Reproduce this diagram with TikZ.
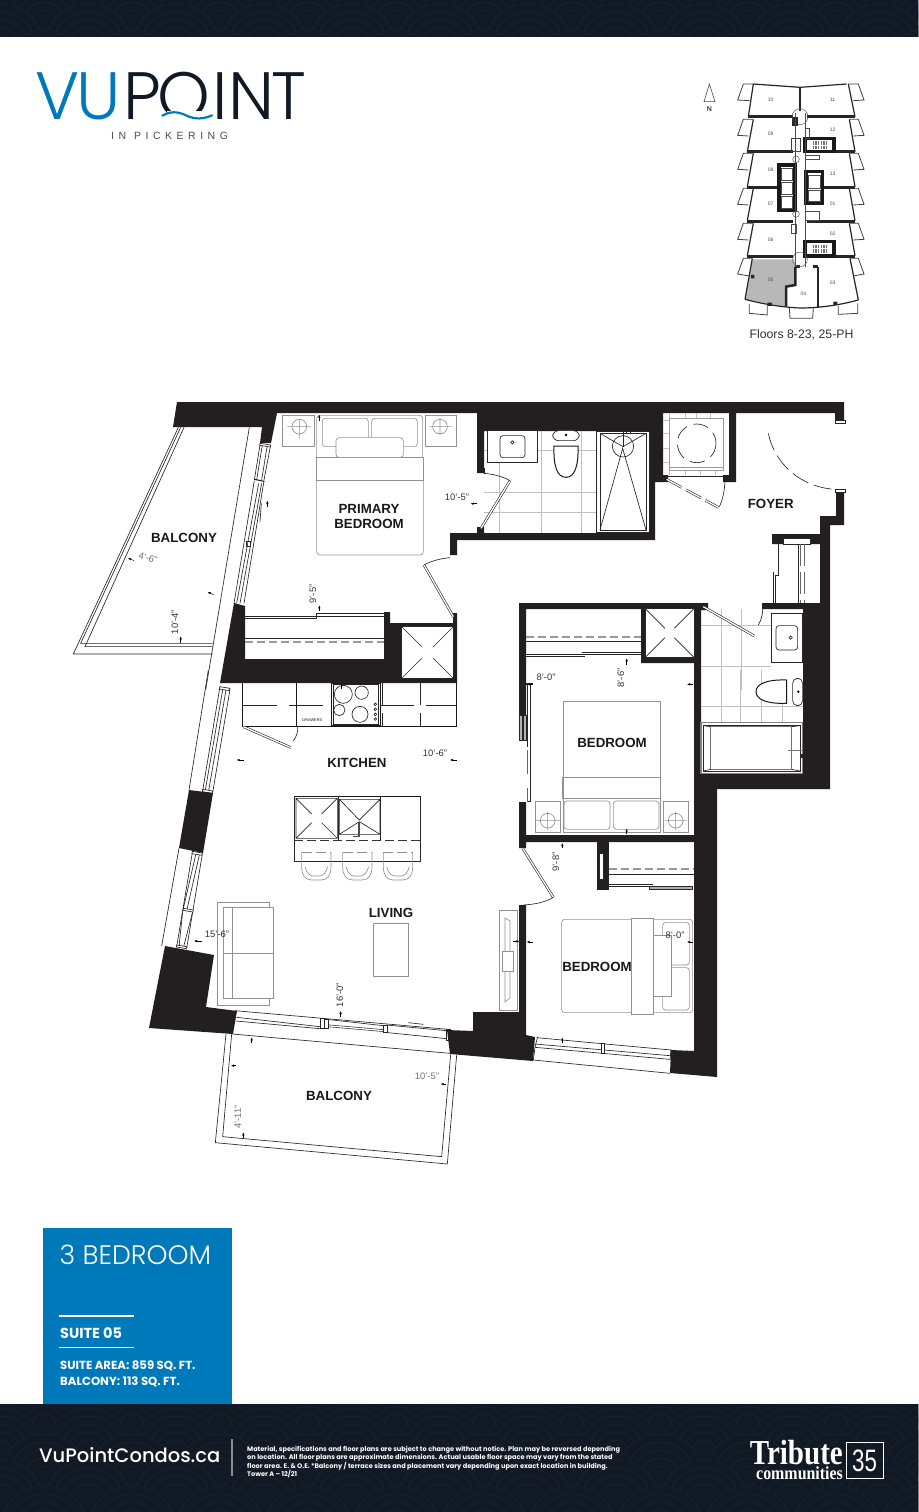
\documentclass[tikz,border=0pt]{standalone}
\usepackage{fontspec}
\usetikzlibrary{arrows.meta}
\setmainfont{Liberation Sans}
\newfontfamily\pop{Poppins}
\newfontfamily\popl{Poppins Light}
\newfontfamily\popm{Poppins Medium}
\newfontfamily\tser{Liberation Serif}
\definecolor{bandc}{HTML}{111A24}
\definecolor{bandl}{HTML}{1B2631}
\definecolor{bluec}{HTML}{0079BA}
\definecolor{wallc}{HTML}{231F20}
\definecolor{furnc}{HTML}{929292}
\definecolor{tilec}{HTML}{C0C0C0}
\tikzset{
 z1/.style={scale=.33333},
 z2/.style={shift={(690,70)},scale=.33333},
 z3/.style={shift={(60,390)},scale=.33333},
 z4/.style={shift={(440,390)},scale=.33333},
 z5/.style={shift={(140,670)},scale=.33333},
 z6/.style={shift={(500,670)},scale=.33333},
 z7/.style={shift={(140,960)},scale=.33333},
 fur/.style={draw=furnc,line width=.65pt},
 dk/.style={draw=black!85,line width=.65pt},
 dkk/.style={draw=black!90,line width=1pt},
 tile/.style={draw=tilec,line width=.9pt},
 doorp/.style={draw=black!85,double=white,double distance=1.3pt,line width=.6pt},
 gdash/.style={draw=black!40,line width=1.9pt,dash pattern=on 8pt off 4pt},
 ddash/.style={draw=black!80,line width=.65pt,dash pattern=on 9pt off 4pt},
 tk/.style={draw=black,line width=.4pt,-{Latex[length=3pt,width=2.4pt]}},
 room/.style={font=\bfseries\fontsize{13.3}{15}\selectfont,text=black!90,inner sep=0pt,align=center},
 dim/.style={font=\fontsize{9.4}{11}\selectfont,text=black!80,inner sep=0pt},
 gdim/.style={font=\fontsize{9.4}{11}\selectfont,text=black!55,inner sep=0pt},
 foot/.style={anchor=base west,inner sep=0pt,text=white,font=\pop\bfseries\fontsize{6.6}{7}\selectfont},
 kl/.style={draw=black!85,line width=1.2pt},
 klt/.style={draw=black!85,line width=2.5pt},
 klc/.style={draw=black!90,line width=3.6pt},
 klb/.style={draw=black!75,line width=.8pt},
 kln/.style={draw=black!70,line width=.45pt},
 kn/.style={font=\fontsize{5}{6}\selectfont,text=black!70,inner sep=0pt},
}
\newcommand{\bandpattern}[2]{%
 \begin{scope}
 \clip (0,#1) rectangle (918,#2);
 \fill[bandc] (0,#1) rectangle (918,#2);
 \foreach \row in {0,...,5}{
  \pgfmathsetmacro{\off}{mod(\row,2)*44}
  \foreach \col in {-1,...,10}{
   \pgfmathsetmacro{\cx}{\col*88+\off}
   \pgfmathsetmacro{\cy}{#1+\row*26-4}
   \foreach \rr in {44,36,28,20,12}{
    \draw[bandl,line width=.5pt,fill=bandc] (\cx,\cy) circle[radius=\rr];
   }
  }
 }
 \end{scope}}
\begin{document}
\begin{tikzpicture}[x=1pt,y=-1pt]
\useasboundingbox (0,0) rectangle (918,1512);
\fill[white] (0,0) rectangle (918,1512);
\bandpattern{0}{37}
\bandpattern{1404}{1512}

% logo
\node[anchor=base west,inner sep=0pt,font=\popl\fontsize{67}{70}\selectfont] (logo) at (35,119.5)
 {\textcolor{bluec}{V\kern-3pt U}\kern3pt\textcolor{bandc}{P\kern-4pt O\kern2pt I\kern1pt N\kern-3.5pt T}};
\begin{scope}[z1]
\fill[white] (500,332) rectangle (640,365);
\draw[bluec,line width=2.2pt,line cap=round] (487,347) .. controls (520,328) and (545,340) .. (562,348) .. controls (585,358) and (610,358) .. (636,346);
\end{scope}
\node[anchor=base west,inner sep=0pt,text=black!70,font=\fontsize{10.5}{12}\selectfont] (sub) at (111,139.5)
 {I\kern4.5pt N\kern8pt P\kern4.5pt I\kern4.5pt C\kern4.5pt K\kern4.5pt E\kern4.5pt R\kern4.5pt I\kern4.5pt N\kern4.5pt G};

% key plan
\begin{scope}[z2]
\draw[black!70,line width=.6pt] (58,42) -- (42,95) -- (75,95) -- cycle;
\fill[black!28] (188,568) -- (312,568) -- (315,585) -- (315,645) -- (285,650) -- (285,710) -- (165,688) -- cycle;
\draw[klb] (190,42) -- (160,42) -- (143,90) -- (178,92);
\draw[klb] (475,42) -- (505,42) -- (522,90) -- (490,92);
\foreach \yy in {148,250,355,460}{
 \draw[klb] (188,\yy) -- (160,\yy) -- (143,\yy+48) -- (175,\yy+50);
 \draw[klb] (478,\yy) -- (505,\yy) -- (522,\yy+48) -- (490,\yy+50);
}
\draw[klb] (185,565) -- (160,565) -- (143,612) -- (178,618);
\draw[klb] (482,565) -- (505,565) -- (522,612) -- (490,618);
\draw[klb] (178,702) -- (178,730) -- (232,735) -- (232,708);
\draw[klb] (298,714) -- (300,745) -- (368,745) -- (370,714);
\draw[klb] (445,708) -- (445,733) -- (503,730) -- (503,700);
\draw[kl] (190,42) -- (330,52) -- (470,42);
\draw[kl] (190,42) -- (175,140) (190,148) -- (172,245) (190,250) -- (172,350) (190,355) -- (172,452) (190,460) -- (172,557) (187,565) -- (165,688);
\draw[kl] (475,42) -- (495,140) (478,148) -- (495,245) (478,250) -- (495,350) (478,355) -- (495,452) (478,460) -- (495,557) (480,565) -- (505,690);
\draw[kl] (165,688) .. controls (230,705) and (285,712) .. (330,714) .. controls (390,714) and (450,705) .. (505,690);
\draw[klt] (175,140) -- (308,140) (350,140) -- (495,140);
\draw[klt] (172,245) -- (308,245) (350,245) -- (495,245);
\draw[klt] (172,352) -- (268,352) (398,352) -- (495,352);
\draw[klt] (172,455) -- (308,455) (350,455) -- (495,455);
\draw[klt] (172,560) -- (308,560) (350,560) -- (495,560);
\draw[klt] (330,52) -- (330,122);
\draw[klt] (316,590) -- (316,645) -- (288,650) -- (288,710);
\draw[klt] (384,590) -- (384,710);
\draw[klt] (316,590) -- (330,590) (370,590) -- (384,590);
\draw[klc] (267,285) rectangle (315,422);
\draw[klc] (348,305) rectangle (398,400);
\draw[kln] (275,295) rectangle (308,330) (275,337) rectangle (308,372) (275,378) rectangle (308,415);
\draw[kln] (355,315) rectangle (390,355) (355,362) rectangle (390,395);
\draw[klc] (345,205) rectangle (432,245);
\draw[klc] (345,515) rectangle (432,558);
\fill[white] (360,212) rectangle (425,240) (360,522) rectangle (425,552);
\foreach \hx in {370,378,386,394,402,410}{
 \draw[black!55,line width=1.4pt] (\hx,214) -- (\hx,224) (\hx,228) -- (\hx,238);
 \draw[black!55,line width=1.4pt] (\hx,524) -- (\hx,534) (\hx,538) -- (\hx,550);
}
\fill[black!85] (305,140) rectangle (325,168);
\draw[klb] (305,205) rectangle (330,245);
\draw[kln] (345,175) rectangle (357,205) (345,255) rectangle (388,268) (345,425) rectangle (388,452) (305,462) rectangle (318,490);
\draw[kln] (330,140) circle[radius=24];
\draw[kln] (330,568) circle[radius=22];
\draw[kln] (318,268) circle[radius=10] (318,432) circle[radius=10];
\draw[kln] (345,130) -- (345,590) (315,130) -- (315,590);
\fill[black!85] (183,615) rectangle (193,625) (232,698) rectangle (246,708) (430,695) rectangle (442,705);
\node[kn] (k10) at (242,90) {10};
\node[kn] (k11) at (428,88) {11};
\node[kn] (k09) at (242,192) {09};
\node[kn] (k12) at (428,180) {12};
\node[kn] (k08) at (242,300) {08};
\node[kn] (k13) at (428,310) {13};
\node[kn] (k07) at (242,402) {07};
\node[kn] (k01) at (428,402) {01};
\node[kn] (k06) at (242,508) {06};
\node[kn] (k02) at (428,490) {02};
\node[kn] (k05) at (242,628) {05};
\node[kn] (k04) at (340,672) {04};
\node[kn] (k03) at (428,638) {03};
\end{scope}
\node[font=\bfseries\fontsize{7}{8}\selectfont,text=black!75,inner sep=0pt] (north) at (709.5,109) {N};
\node[font=\fontsize{12.3}{14}\selectfont,text=black!80,inner sep=0pt] (floors) at (801.5,335) {Floors 8-23, 25-PH};

% balconies and glazing
\begin{scope}[z3]
\draw[dk] (355,112) -- (40,792) -- (458,792);
\draw[dk] (372,112) -- (75,770) -- (458,770);
\draw[dk] (362,112) -- (62,760) -- (458,760);
\draw[dk] (568,112) -- (437,900);
\draw[dk] (600,165) -- (583,270) (632,165) -- (612,270);
\draw[dk] (607,165) -- (590,270) (622,165) -- (605,270);
\draw[dk] (583,272) -- (522,640) (612,272) -- (552,640);
\draw[dk] (596,280) -- (530,640) (605,280) -- (540,640);
\draw[dk,fill=white] (600,160) -- (632,165) -- (631,171) -- (599,166) -- cycle;
\draw[dkk] (583,268) -- (613,274);
\draw[dk] (558,455) rectangle (572,470);
\draw[dk] (604,340) -- (600,395);
\end{scope}
\begin{scope}[z5]
\draw[dk] (205,0) -- (147,360);
\draw[dk] (240,50) -- (188,362) (270,58) -- (218,368);
\draw[dk] (248,60) -- (196,360) (258,60) -- (206,362);
\draw[dk,fill=white] (240,50) -- (270,55) -- (268,62) -- (238,57) -- cycle;
\draw[dk,fill=white] (188,358) -- (218,363) -- (217,370) -- (187,365) -- cycle;
\draw[dk] (117,535) -- (65,828);
\draw[dk] (157,548) -- (110,830) (187,552) -- (140,835);
\draw[dk] (167,555) -- (130,715) (178,555) -- (141,718) (128,725) -- (117,830) (158,725) -- (131,830);
\draw[dk,fill=white] (157,544) -- (187,549) -- (186,556) -- (156,551) -- cycle;
\draw[dk,fill=white] (130,715) -- (160,720) -- (159,726) -- (129,721) -- cycle;
\draw[dk,fill=white] (110,825) -- (140,830) -- (139,836) -- (109,831) -- cycle;
\end{scope}
\begin{scope}[z7]
\draw[dk] (258,222) -- (226,548) -- (922,612) -- (950,285);
\draw[dk] (275,222) -- (248,530) -- (905,590) -- (932,283);
\draw[dk] (277,222) -- (930,280);
\draw[dk] (285,152) -- (925,208);
\draw[dk] (285,152) -- (280,185);
\draw[dk] (290,172) -- (540,200) (288,183) -- (540,206);
\draw[dk] (560,178) -- (730,197);
\draw[doorp] (560,197) -- (733,212);
\draw[dk] (740,195) -- (920,212) (735,217) -- (920,236);
\draw[dk,fill=white] (540,175) rectangle (552,205);
\draw[dk,fill=white] (554,177) rectangle (564,206);
\draw[dk,fill=white] (731,197) rectangle (743,218);
\draw[dk,fill=white] (918,208) rectangle (930,240);
\draw[dk] (805,188) -- (850,193);
\end{scope}
\begin{scope}[z6]
\draw[dk] (110,1103) -- (513,1140);
\draw[dk] (105,1122) -- (510,1157) (105,1132) -- (510,1168);
\draw[dk] (100,1170) -- (510,1210);
\draw[dk] (113,1100) -- (105,1132) -- (100,1170);
\draw[dk] (513,1138) -- (510,1170);
\draw[dk,fill=white] (303,1120) rectangle (312,1150);
\end{scope}

% walls
\fill[wallc] (177,402) -- (844,402) -- (844,422) -- (835,422) -- (835,413) -- (736,413) -- (736,482) -- (723,482) -- (723,475) -- (729,475) -- (729,413) -- (663,413) -- (663,475) -- (668,475) -- (668,482) -- (655,482) -- (655,540) -- (457,540) -- (457,555) -- (450,555) -- (450,533) -- (477,533) -- (477,527) -- (484,527) -- (484,533) -- (648,533) -- (648,431) -- (484,431) -- (484,473) -- (477,473) -- (477,413) -- (277,413) -- (271,443) -- (260,443) -- (262,427) -- (173,427) -- cycle;
\fill[wallc] (836,493) -- (844,493) -- (844,525) -- (830,525) -- (830,789) -- (717,789) -- (717,1077) -- (670,1073) -- (671,1050) -- (694,1051) -- (694,773) -- (803,773) -- (803,609) -- (762,609) -- (762,603) -- (820,603) -- (820,544) -- (772,544) -- (772,534) -- (820,534) -- (820,516) -- (836,516) -- cycle;
\fill[wallc] (519,603) -- (708,603) -- (708,610) -- (701,610) -- (701,773) -- (694,773) -- (694,663) -- (641,663) -- (641,609) -- (526,609) -- (526,715) -- (519,715) -- cycle;
\fill[wallc] (519,802) -- (526,802) -- (526,835) -- (694,835) -- (694,842) -- (526,842) -- (526,848) -- (519,848) -- cycle;
\fill[wallc] (597,842) rectangle (609,890);
\fill[wallc] (519,905) -- (526,905) -- (526,1035) -- (535,1037) -- (533,1061) -- (450,1054) -- (447,1030) -- (473,1031) -- (473,1012) -- (519,1012) -- cycle;
\fill[wallc] (165,946) -- (214,955) -- (206,1007) -- (237,1011) -- (233,1034) -- (149,1028) -- cycle;
\fill[wallc] (189,790) -- (213,793) -- (203,853) -- (179,848) -- cycle;
\fill[wallc] (234,603) -- (245,606) -- (245,659) -- (384,659) -- (384,612) -- (390,612) -- (390,623) -- (453,623) -- (453,613) -- (457,613) -- (457,683) -- (220,683) -- cycle;
% wall inserts
\fill[white] (599,853) rectangle (603.5,879);
\draw[dk] (599,853) rectangle (603.5,879);
\fill[white] (783,538) rectangle (810,544);
\draw[dk] (783,538) rectangle (810,544);

% primary bedroom furniture
\begin{scope}[z3]
\draw[fur] (668,76) rectangle (763,168) (1097,76) rectangle (1190,168);
\draw[fur] (718,110) circle[radius=22] (682,110) -- (752,110) (718,88) -- (718,145);
\draw[fur] (1140,110) circle[radius=22] (1110,110) -- (1175,110) (1140,88) -- (1140,135);
\draw[fur,rounded corners=3pt] (770,202) -- (770,495) -- (1090,495) -- (1090,202);
\draw[fur] (770,202) rectangle (1090,272);
\draw[fur,rounded corners=3pt] (770,202) -- (770,76) -- (1088,76) -- (1088,202);
\draw[fur,rounded corners=3pt] (787,85) rectangle (925,170) (935,85) rectangle (1072,170);
\draw[fur,fill=white,rounded corners=3pt] (828,143) rectangle (1030,202);
\draw[dk] (555,678) -- (768,678) -- (768,670) -- (972,670);
\draw[dk] (555,685) -- (768,685) -- (768,678) -- (972,678);
\draw[dk] (555,745) -- (972,745);
\draw[gdash] (555,757) -- (972,757);
\draw[doorp] (1180,680) -- (1092,525);
\draw[dk] (1092,525) .. controls (1115,512) and (1145,505) .. (1170,503);
\fill[white] (1025,710) rectangle (1180,865);
\draw[dk] (1025,710) rectangle (1180,865);
\draw[dk] (1025,710) -- (1085,770) (1180,710) -- (1120,770) (1025,865) -- (1085,805) (1180,865) -- (1120,805);
\end{scope}

% ensuite and laundry, foyer
\begin{scope}[z4]
\draw[tile] (178,217) -- (178,428) (305,122) -- (305,428) (425,122) -- (425,428);
\draw[tile] (133,308) -- (470,308) (133,368) -- (470,368) (133,182) -- (143,182) (293,182) -- (470,182);
\draw[dk,fill=white] (143,122) rectangle (293,217);
\draw[dk,fill=white,rounded corners=3pt] (180,137) rectangle (255,203);
\draw[dk] (217,157) circle[radius=5];
\draw[dk,fill=white,rounded corners=6pt] (338,122) rectangle (418,152);
\draw[dkk,fill=white] (342,168) -- (414,168) .. controls (416,225) and (405,262) .. (378,262) .. controls (350,262) and (340,225) .. (342,168) -- cycle;
\fill[black] (378,135) circle[radius=4];
\draw[dk,fill=white] (470,123) rectangle (627,428);
\draw[dk] (480,130) rectangle (618,420);
\draw[dk] (480,420) -- (548,175) -- (618,420);
\draw[dk] (549,169) circle[radius=32];
\draw[dk] (480,130) -- (549,170) -- (618,130);
\draw[dk] (549,170) -- (549,122);
\draw[dk] (560,122) rectangle (572,130);
\draw[doorp] (123,415) -- (210,272);
\draw[dk] (130,250) .. controls (160,252) and (190,260) .. (210,272);
\fill[wallc] (112,235) rectangle (135,250);
% laundry
\draw[tile] (688,70) -- (688,255) (735,70) -- (735,85) (770,70) -- (770,85) (812,70) -- (812,85);
\draw[tile] (670,92) -- (688,92) (670,130) -- (688,130) (670,175) -- (688,175) (670,218) -- (688,218);
\draw[tile] (735,240) -- (735,255) (780,240) -- (780,255) (825,240) -- (825,255);
\draw[draw=black!40,line width=.9pt] (688,85) rectangle (850,240);
\draw[black!40,line width=.7pt] (688,232) -- (850,232);
\draw[dk,dash pattern=on 15pt off 7pt] (770,160) circle[radius=58];
\draw[dk] (685,258) -- (855,258);
\draw[doorp,dash pattern=on 17pt off 5pt] (680,268) -- (835,352);
\draw[dk] (855,275) .. controls (853,305) and (848,330) .. (838,350);
% entry door
\draw[doorp] (985,105) -- (1185,105);
\draw[dk,dash pattern=on 18pt off 6pt] (985,130) .. controls (1005,225) and (1085,292) .. (1185,298);
\draw[dk,fill=white] (1185,90) rectangle (1215,100);
\draw[dk,fill=white] (1185,298) rectangle (1215,308);
% coat closet
\draw[dk] (1016,463) -- (1016,555) -- (1006,555) -- (1006,640);
\draw[dk] (1000,545) -- (1000,640);
\draw[black!60,line width=.8pt,dash pattern=on 22pt off 6pt] (1082,463) -- (1082,640) (1092,463) -- (1092,640);
\draw[dk] (1075,463) -- (1075,640);
% bedroom closet
\draw[gdash] (258,740) -- (602,740);
\draw[dk] (258,753) -- (602,753);
\draw[doorp] (258,797) -- (435,797);
\draw[doorp] (425,790) -- (602,790);
\fill[white] (615,655) rectangle (763,803);
\draw[dk] (615,655) rectangle (763,803);
\draw[dk] (615,655) -- (675,715) (763,655) -- (703,715) (615,803) -- (675,743) (763,803) -- (703,743);
% bath two
\draw[tile] (845,658) -- (845,900) (905,658) -- (905,900);
\draw[tile] (782,705) -- (993,705) (782,830) -- (993,830);
\draw[dk,fill=white] (993,670) rectangle (1087,818);
\draw[dk,fill=white,rounded corners=3pt] (1008,707) rectangle (1073,780);
\draw[dk] (1052,743) circle[radius=5];
\draw[doorp] (790,650) -- (943,738);
\draw[dk] (968,640) .. controls (970,665) and (965,690) .. (955,705);
\fill[wallc] (965,638) rectangle (985,658);
\end{scope}

\begin{scope}[z6]
\draw[tile] (665,0) -- (665,157) (722,0) -- (722,157) (785,0) -- (785,157) (848,100) -- (848,157);
\draw[tile] (603,110) -- (908,110);
\draw[dkk,fill=white] (860,30) .. controls (800,28) and (768,42) .. (768,65) .. controls (768,88) and (800,102) .. (860,100) -- cycle;
\draw[dk,fill=white,rounded corners=5pt] (878,25) rectangle (908,107);
\fill[black] (895,65) circle[radius=4];
\draw[draw=black!50,line width=1.1pt,fill=white] (603,157) rectangle (908,310);
\draw[dk] (610,167) rectangle (900,303);
\draw[dk] (632,170) rectangle (875,298) (610,167) -- (632,170) (610,303) -- (632,298) (900,167) -- (875,170) (900,303) -- (875,298);
\draw[black!55,line width=1.2pt] (865,241) -- (905,241);
\draw[dk] (903,253) rectangle (908,262);
% upper bedroom
\draw[fur] (190,95) rectangle (480,385);
\draw[fur] (187,322) rectangle (482,385);
\draw[fur] (190,385) rectangle (480,487);
\draw[fur,rounded corners=3pt] (192,393) rectangle (330,478) (340,393) rectangle (477,478);
\draw[fur] (105,393) rectangle (182,487) (490,393) rectangle (565,487);
\draw[fur] (143,452) circle[radius=22] (108,452) -- (180,452) (143,425) -- (143,480);
\draw[fur] (527,452) circle[radius=22] (495,452) -- (560,452) (527,425) -- (527,480);
\draw[dk] (90,40) -- (90,395) -- (82,395);
\draw[dk] (82,40) -- (82,230);
\draw[black!60,line width=.8pt,dash pattern=on 24pt off 14pt] (82,240) -- (82,395);
\draw[dk,fill=black!30] (58,135) rectangle (78,210);
\draw[dk] (66,135) -- (66,210) (70,135) -- (70,210);
\fill[wallc] (78,38) rectangle (98,44);
% lower bedroom
\draw[gdash] (326,597) -- (582,597);
\draw[dk] (326,612) -- (582,612);
\draw[doorp] (326,647) -- (458,647);
\draw[dk,fill=black!30] (448,650) rectangle (578,657);
\draw[doorp] (68,535) -- (160,682);
\draw[dk] (160,682) .. controls (135,697) and (105,703) .. (70,705);
\draw[fur,rounded corners=3pt] (185,748) rectangle (578,1028);
\draw[fur,fill=white] (395,745) rectangle (460,1032);
\draw[fur,rounded corners=3pt] (488,757) rectangle (568,885) (488,893) rectangle (568,1020);
\draw[fur,fill=white] (460,795) rectangle (515,980);
\end{scope}

% kitchen and living
\begin{scope}[z5]
\draw[dk] (308,38) rectangle (950,170);
\draw[dkk] (308,38) -- (308,170) -- (950,170) -- (950,38);
\draw[dkk] (470,38) -- (470,170);
\draw[dk,dash pattern=on 22pt off 8pt] (728,38) -- (728,170) (840,38) -- (840,170);
\draw[dk,dash pattern=on 34pt off 12pt] (308,105) -- (575,105) (720,105) -- (950,105);
\draw[dkk] (575,40) rectangle (720,167);
\draw[dk] (580,44) rectangle (716,163);
\draw[dk] (610,73) circle[radius=27] (665,68) circle[radius=20] (598,120) circle[radius=17] (660,133) circle[radius=24];
\draw[dk] (706,103) circle[radius=4] (706,118) circle[radius=4] (706,133) circle[radius=4] (706,147) circle[radius=4];
\fill[black] (602,46) rectangle (605,56);
\draw[doorp] (310,170) -- (453,233);
\draw[dk] (473,170) .. controls (474,185) and (470,200) .. (460,212);
\node[inner sep=0pt,font=\fontsize{3.9}{5}\selectfont,text=black!90] (drawers) at (517,150) {DRAWERS};
\draw[dk] (463,378) rectangle (840,573);
\draw[dkk] (463,378) -- (840,378);
\draw[dk] (463,378) -- (463,512) (595,378) -- (595,512) (722,378) -- (722,512);
\draw[ddash] (463,512) -- (840,512);
\draw[dk,dash pattern=on 26pt off 6pt] (840,378) -- (840,512);
\draw[dk] (468,385) rectangle (592,505) (468,385) -- (515,432) (592,385) -- (545,432) (468,505) -- (515,458) (592,505) -- (545,458);
\draw[dk] (598,388) rectangle (720,493) (598,388) -- (658,450) -- (720,388) (598,493) -- (658,455) -- (720,493);
\draw[black!70,line width=1.3pt] (657,455) -- (657,500) -- (640,500);
\foreach \sx in {485,608,730}{
 \draw[fur] (\sx,547) -- (\sx,590) .. controls (\sx,615) and (\sx+10,630) .. (\sx+30,630) -- (\sx+58,630) .. controls (\sx+78,630) and (\sx+88,615) .. (\sx+88,590) -- (\sx+88,547);
 \draw[fur] (\sx+10,590) .. controls (\sx+15,610) and (\sx+25,618) .. (\sx+35,618) -- (\sx+53,618) .. controls (\sx+63,618) and (\sx+73,610) .. (\sx+78,590);
 \draw[fur,dash pattern=on 10pt off 4pt] (\sx,547) -- (\sx+88,547);
}
\end{scope}
\draw[fur] (217,902) rectangle (269,1005);
\draw[fur,fill=white] (223,907) rectangle (273,998);
\draw[fur] (232,907) -- (232,998) (223,953) -- (273,953);
\draw[fur] (373,923) rectangle (408,976);
\draw[fur] (499,910) rectangle (517,1010);
\draw[fur] (505,918) -- (510,921) -- (510,998) -- (505,1002) -- cycle;
\draw[fur,fill=white] (502,951) rectangle (513,971);

% dimension ticks
\begin{scope}[z3]
\draw[tk] (778,92) -- (778,74);
\draw[tk] (1252,341) -- (1232,341);
\draw[tk] (622,350) -- (622,332);
\draw[tk] (222,512) -- (204,504);
\draw[tk] (462,615) -- (443,606);
\draw[tk] (362,758) -- (362,739);
\draw[tk] (778,662) -- (778,646);
\end{scope}
\begin{scope}[z5]
\draw[tk] (312,270) -- (290,270);
\draw[tk] (950,270) -- (930,270);
\draw[tk] (185,813) -- (162,813);
\end{scope}
\begin{scope}[z4]
\draw[tk] (560,824) -- (560,805);
\end{scope}
\begin{scope}[z6]
\draw[tk] (187,535) -- (187,519);
\draw[tk] (380,492) -- (380,476);
\draw[tk] (80,43) -- (96,43);
\draw[tk] (98,816) -- (80,816);
\draw[tk] (40,814) -- (58,814);
\draw[tk] (578,816) -- (561,816);
\draw[tk] (578,43) -- (561,43);
\draw[tk] (187,1118) -- (187,1102);
\end{scope}
\begin{scope}[z7]
\draw[tk] (335,250) -- (335,232);
\draw[tk] (288,317) -- (273,317);
\draw[tk] (918,372) -- (902,372);
\draw[tk] (310,533) -- (310,517);
\draw[tk] (602,170) -- (602,153);
\end{scope}

% room labels
\node[room] (balA) at (184,538) {BALCONY};
\node[room] (prim) at (369,516.5) {PRIMARY\\[-.5pt]BEDROOM};
\node[room] (foyer) at (770.7,504) {FOYER};
\node[room] (kit) at (357,763) {KITCHEN};
\node[room] (liv) at (391,913) {LIVING};
\node[room] (bedA) at (612,743) {BEDROOM};
\node[room] (bedB) at (597,967) {BEDROOM};
\node[room] (balB) at (339,1096) {BALCONY};
\node[gdim,rotate=-15] (d1) at (148,558) {4'-6"};
\node[dim,rotate=90] (d2) at (175,622) {10'-4"};
\node[dim,rotate=90] (d3) at (313,594) {9'-5"};
\node[dim] (d4) at (457,497) {10'-5"};
\node[dim] (d5) at (435,753) {10'-6"};
\node[dim] (d6) at (217,934) {15'-6"};
\node[dim] (d7) at (546,677) {8'-0"};
\node[dim,rotate=90] (d8) at (621,678) {8'-6"};
\node[dim,rotate=90] (d9) at (556,862) {9'-8"};
\node[dim] (d10) at (675,935) {8'-0"};
\node[dim,rotate=90] (d11) at (340,995) {16'-0"};
\node[gdim] (d12) at (427,1076) {10'-5"};
\node[gdim,rotate=90] (d13) at (238,1117) {4'-11"};

% blue panel
\fill[bluec] (43,1228) rectangle (232,1404);
\node[anchor=base west,inner sep=0pt,text=white,font=\popl\fontsize{26.7}{30}\selectfont] (type) at (59.5,1264) {3 BEDROOM};
\draw[white,line width=1.6pt] (59,1316) -- (133.5,1316);
\node[anchor=base west,inner sep=0pt,text=white,font=\pop\bfseries\fontsize{14.5}{16}\selectfont] (suite) at (60,1338) {SUITE 05};
\draw[white,line width=1.6pt] (59,1347.5) -- (133.5,1347.5);
\node[anchor=base west,inner sep=0pt,text=white,font=\pop\bfseries\fontsize{11.7}{13}\selectfont] (area) at (60,1369) {SUITE AREA: 859 SQ. FT.};
\node[anchor=base west,inner sep=0pt,text=white,font=\pop\bfseries\fontsize{11.7}{13}\selectfont] (bal) at (60,1385) {BALCONY: 113 SQ. FT.};

% footer
\node[anchor=base west,inner sep=0pt,text=white,font=\popm\fontsize{19.5}{22}\selectfont] (url) at (39,1462) {VuPointCondos.ca};
\draw[black!45,line width=1.8pt] (232,1439) -- (232,1476);
\node[foot] (f1) at (247,1451) {Material, specifications and floor plans are subject to change without notice. Plan may be reversed depending};
\node[foot] (f2) at (247,1459.5) {on location. All floor plans are approximate dimensions. Actual usable floor space may vary from the stated};
\node[foot] (f3) at (247,1468) {floor area.  E. \& O.E.  *Balcony / terrace sizes and placement vary depending upon exact location in building.};
\node[foot] (f4) at (247,1476.5) {Tower A – 12/21};
\node[anchor=base east,inner sep=0pt,text=white,xscale=.83,transform shape,font=\tser\bfseries\fontsize{35}{36}\selectfont] (trib) at (843,1464) {Tribute};
\node[anchor=base east,inner sep=0pt,text=white,xscale=.86,transform shape,font=\tser\bfseries\fontsize{18.5}{20}\selectfont] (comm) at (843,1479.5) {communities};
\draw[white,line width=.5pt] (846,1442) rectangle (883,1478);
\node[inner sep=0pt,text=white,xscale=.72,transform shape,font=\fontsize{31}{32}\selectfont] (thirtyfive) at (864.5,1460.5) {35};
\end{tikzpicture}
\end{document}
